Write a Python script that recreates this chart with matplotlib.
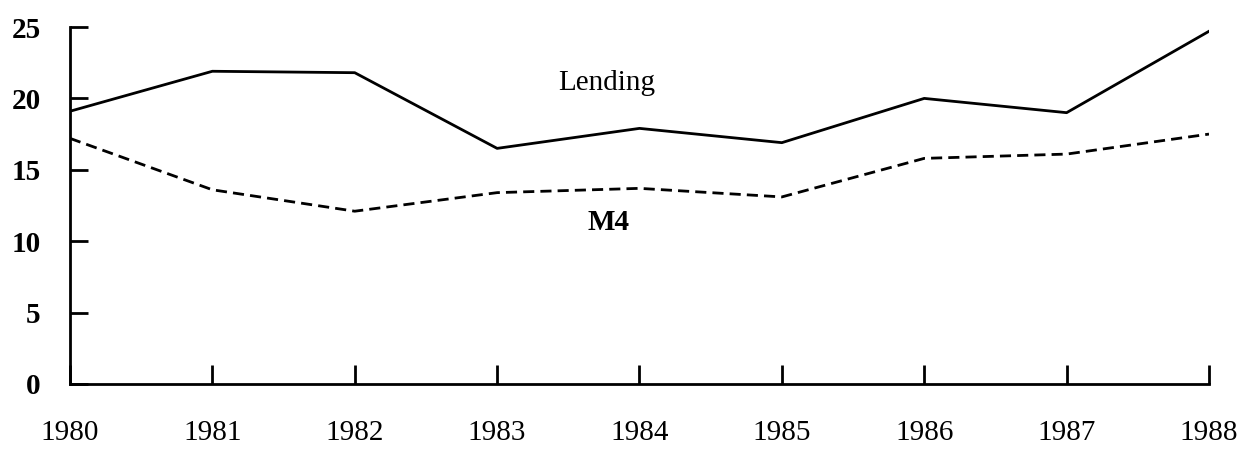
import matplotlib
matplotlib.use("Agg")
import matplotlib.pyplot as plt

years = [1980, 1981, 1982, 1983, 1984, 1985, 1986, 1987, 1988]
lending = [19.1, 21.9, 21.8, 16.5, 17.9, 16.9, 20.0, 19.0, 24.7]
m4 = [17.2, 13.6, 12.1, 13.4, 13.7, 13.1, 15.8, 16.1, 17.5]
y_ticks = [0, 5, 10, 15, 20, 25]

plt.rcParams["font.family"] = ["Liberation Serif", "DejaVu Serif"]

fig = plt.figure(figsize=(12.41, 4.5), dpi=100)
ax = fig.add_axes([0.0564, 0.1467, 0.9178, 0.7933])

ax.plot(years, lending, color="black", linewidth=2.0)
ax.plot(years, m4, color="black", linewidth=2.0, dashes=(4, 2.2))

ax.text(1983.77, 21.1, "Lending", fontsize=21, ha="center", va="center")
ax.text(1983.78, 11.3, "M4", fontsize=21, fontweight="bold", ha="center", va="center")

ax.set_xlim(1980, 1988)
ax.set_ylim(0, 25)
ax.set_xticks(years)
ax.set_yticks(y_ticks)

for side in ("top", "right"):
    ax.spines[side].set_visible(False)
for side in ("left", "bottom"):
    ax.spines[side].set_linewidth(2.0)

ax.tick_params(axis="y", direction="in", length=13, width=2.0, pad=21, labelsize=21)
ax.tick_params(axis="x", direction="in", length=14, width=2.0, pad=26, labelsize=21)
for lbl in ax.get_yticklabels():
    lbl.set_fontweight("bold")

fig.savefig("out.png", dpi=100)
plt.close(fig)
